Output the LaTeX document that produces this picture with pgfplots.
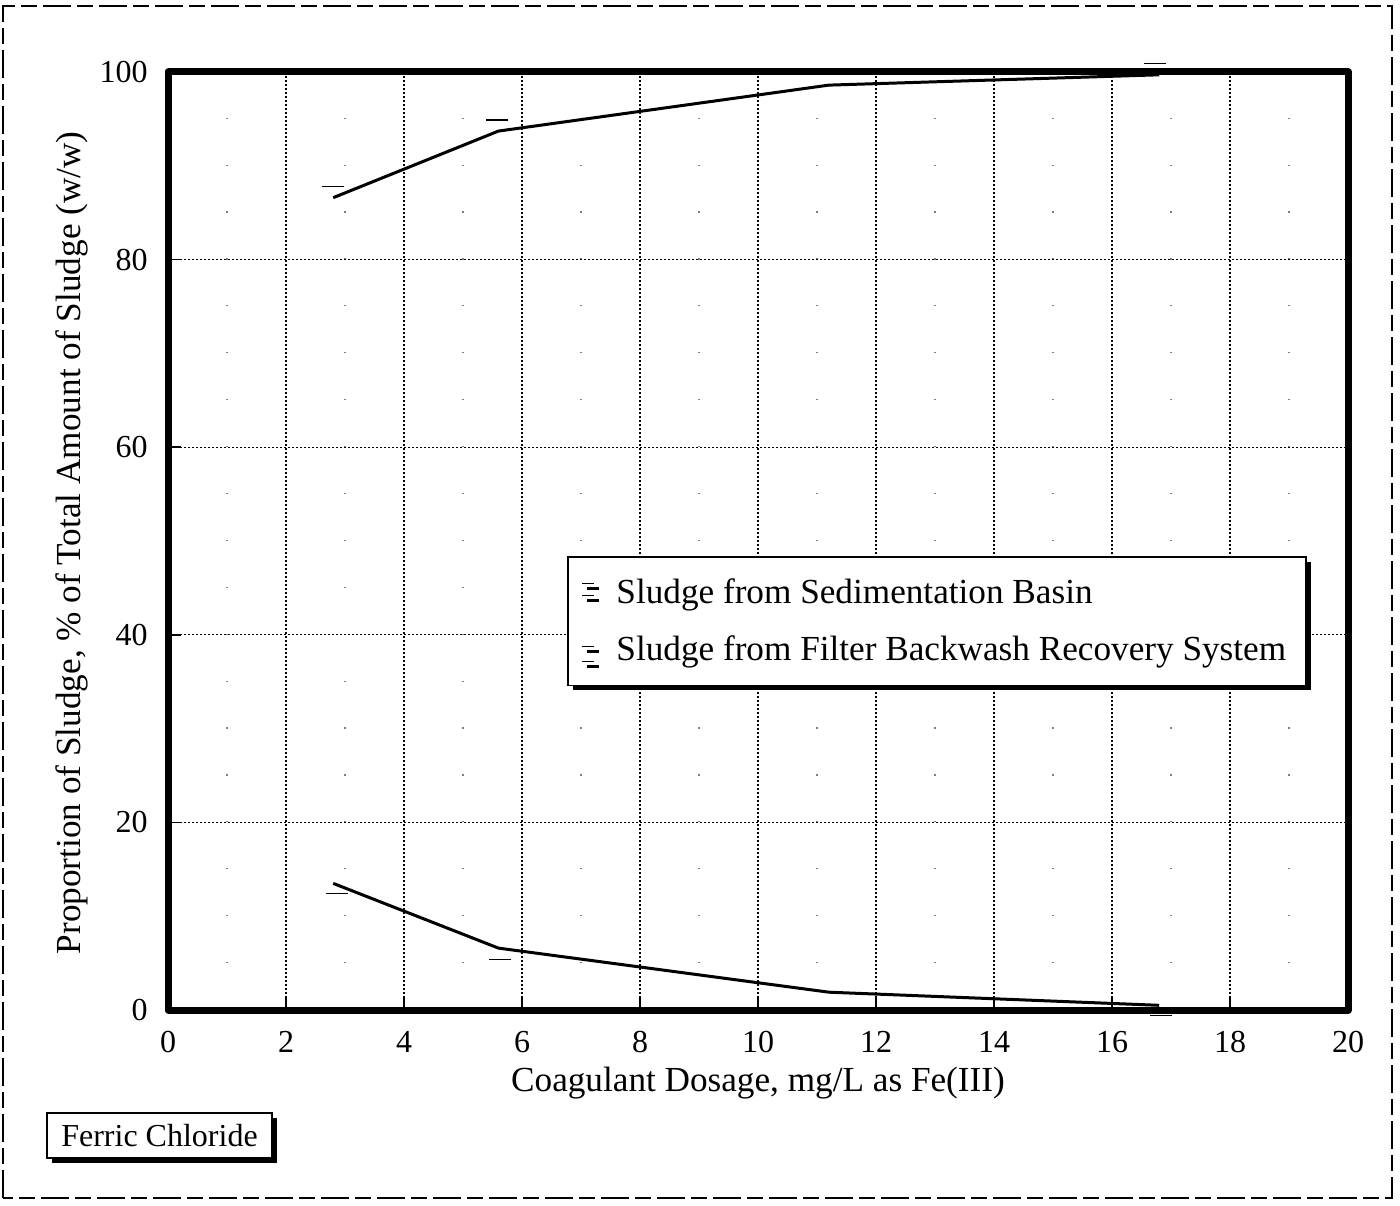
\documentclass[border=0pt]{standalone}
\usepackage{pgfplots}
\pgfplotsset{compat=1.18}
\usepackage{fontspec}
\setmainfont{Liberation Serif}
\usetikzlibrary{shadows}

\begin{document}
\begin{tikzpicture}[x=1pt,y=1pt]
\useasboundingbox (-84,-97.5) rectangle (616,505);
% outer dashed frame of the figure
\draw[line width=0.6pt, dash pattern=on 14pt off 3pt on 8pt off 3pt] (-82.5,-94) rectangle (612,502);

\begin{axis}[
    at={(0,0)}, anchor=south west,
    scale only axis,
    width=590pt, height=469pt,
    xmin=0, xmax=20, ymin=0, ymax=100,
    xtick={0,2,...,20}, ytick={0,20,...,100},
    minor xtick={1,3,...,19},
    grid=both,
    major grid style={black, line width=0.6pt, dash pattern=on 1pt off 1pt},
    minor grid style={gray, line width=0.6pt, dash pattern=on 0.6pt off 22.85pt},
    axis line style={line width=3.5pt, line join=round},
    tick pos=left, tick align=inside,
    major tick length=6.5pt, minor tick length=0pt,
    tick style={black, line width=0.8pt},
    /pgf/number format/assume math mode=true,
    ticklabel style={font=\fontsize{16}{18}\selectfont},
    xticklabel style={anchor=base, yshift=-21pt, inner sep=0pt},
    yticklabel style={anchor=east, xshift=-10pt, inner sep=0pt},
    xlabel={Coagulant Dosage, mg/L as Fe(III)},
    ylabel={Proportion of Sludge, \% of Total Amount of Sludge (w/w)},
    label style={font=\fontsize{17.6}{20}\selectfont},
    xlabel style={at={(axis description cs:0.5,-0.0874)}, anchor=base},
    ylabel style={at={(axis description cs:-0.0814,0.498)}, anchor=center},
    clip=false,
    legend cell align=left,
    legend style={
        at={(axis description cs:0.3381,0.484)}, anchor=north west,
        font=\fontsize{17.6}{20}\selectfont,
        draw=black, line width=0.8pt, fill=white,
        inner xsep=7pt, inner ysep=8pt,
        row sep=8.5pt,
        nodes={inner sep=3pt},
        drop shadow={shadow xshift=2.5pt, shadow yshift=-2.5pt, fill=black, opacity=1},
    },
]
% sludge from sedimentation basin
\addplot[black, line width=1.5pt,
    legend image code/.code={
        \draw[black, line width=0.7pt] (0pt,4.5pt) -- (6pt,4.5pt);
        \draw[black, line width=0.7pt] (0pt,-1.5pt) -- (6pt,-1.5pt);
        \pgfpathmoveto{\pgfpoint{0pt}{0pt}}\pgfpathlineto{\pgfpoint{14pt}{0pt}}
        \pgfusepath{use as bounding box}
    }] coordinates {
    (2.8,86.6) (5.6,93.7) (11.2,98.6) (16.8,99.7)
};
\addlegendentry{Sludge from Sedimentation Basin}
% sludge from filter backwash recovery system
\addplot[black, line width=1.5pt,
    legend image code/.code={
        \draw[black, line width=0.7pt] (0pt,1.5pt) -- (6pt,1.5pt);
        \draw[black, line width=0.7pt] (0pt,-6pt) -- (6pt,-6pt);
        \pgfpathmoveto{\pgfpoint{0pt}{0pt}}\pgfpathlineto{\pgfpoint{14pt}{0pt}}
        \pgfusepath{use as bounding box}
    }] coordinates {
    (2.8,13.5) (5.6,6.6) (11.2,1.9) (16.8,0.5)
};
\addlegendentry{Sludge from Filter Backwash Recovery System}

% point markers (printed offset from the lines)
\addplot[forget plot, only marks, mark=-, mark size=5.5pt, mark options={line width=0.7pt, black}] coordinates {
    (2.8,87.8) (5.58,94.9) (16.73,100.9)
};
\addplot[forget plot, only marks, mark=-, mark size=5.5pt, mark options={line width=0.7pt, black}] coordinates {
    (2.87,12.4) (5.63,5.4) (16.83,-0.6)
};
\end{axis}

% dosage note box
\node[draw=black, line width=0.8pt, fill=white, minimum width=112.5pt, minimum height=22.5pt,
      inner sep=0pt, font=\fontsize{16}{18}\selectfont,
      drop shadow={shadow xshift=2.5pt, shadow yshift=-2.5pt, fill=black, opacity=1}]
    at (-4.25,-62.75) {Ferric Chloride};
\end{tikzpicture}
\end{document}
